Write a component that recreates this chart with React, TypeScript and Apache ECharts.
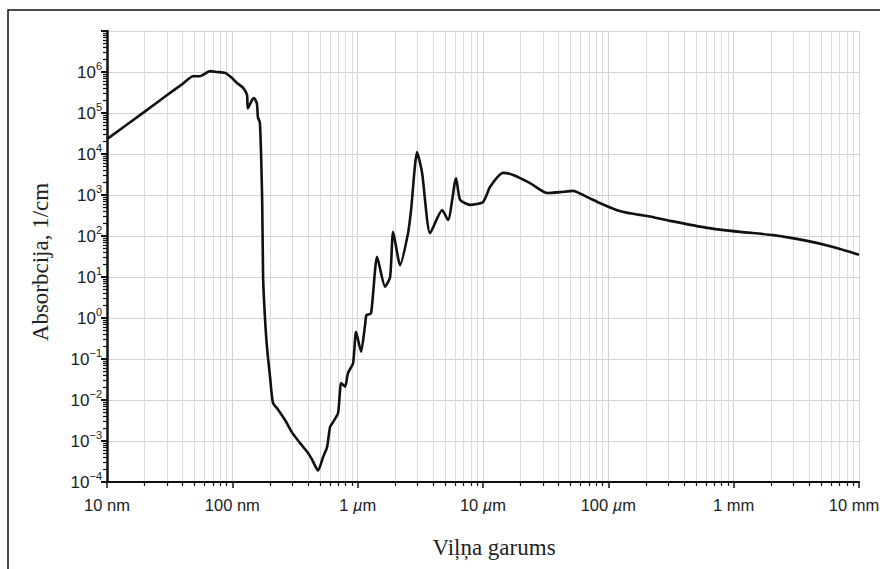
import React, { useEffect, useRef } from "react";
import * as echarts from "echarts";

// wavelength in nm
const WAVELENGTH_NM = [
  10, 20, 30, 40, 48.6, 55.2, 66.4, 75.5, 87.5, 99.5, 109, 122, 131, 133, 144, 149, 157, 160,
  166, 173, 176, 182, 189, 200, 211, 232, 264, 300, 347, 402, 433, 483, 530, 570,
  602, 636, 698, 738, 793, 838, 919, 971, 1065, 1146, 1175, 1279, 1429, 1655, 1815,
  1919, 2180, 2523, 2667, 2978, 3266, 3785, 4718, 5264, 6097, 6568, 7887, 10020,
  11400, 14460, 17380, 23770, 32500, 41240, 52360, 67700, 86080, 117500, 157700,
  228000, 311400, 614000, 1127000, 2066000, 3860000, 6220000, 10000000,
];
// absorption coefficient, 1/cm
const ABSORPTION = [
  2.3e4, 1.08e5, 2.7e5, 5.1e5, 7.9e5, 7.9e5, 1.05e6, 1.0e6, 9.5e5, 7.1e5, 5.4e5, 4.1e5, 2.75e5, 1.3e5, 2.1e5, 2.3e5, 1.7e5, 7.9e4,
  5.8e4, 760, 10, 1.05, 0.195, 0.036, 0.0085, 0.0058, 0.0032, 0.0016, 8.9e-4, 5.1e-4, 3.5e-4, 1.9e-4, 4.1e-4, 7.1e-4,
  2.2e-3, 2.9e-3, 4.8e-3, 0.026, 0.021, 0.046, 0.079, 0.46, 0.15, 0.68, 1.17, 1.3, 31, 5.8, 10,
  126, 19.5, 117, 427, 11200, 3470, 117, 427, 245, 2570, 760, 575, 676,
  1585, 3470, 3090, 1950, 1120, 1175, 1260, 890, 630, 427, 347,
  288, 234, 158, 126, 105, 76, 54, 35,
];

const X_TICK_LABELS = ["10 nm", "100 nm", "1 µm", "10 µm", "100 µm", "1 mm", "10 mm"];
const Y_AXIS_TITLE = "Absorbcija, 1/cm";
const X_AXIS_TITLE = "Viļņa garums";

export default function App() {
  const ref = useRef<HTMLDivElement>(null);
  useEffect(() => {
    if (!ref.current) return;
    const chart = echarts.init(ref.current, null, { renderer: "svg" });
    const data = WAVELENGTH_NM.map((x, i) => [x, ABSORPTION[i]]);
    chart.setOption({
      animation: false,
      backgroundColor: "#fff",
      grid: { left: 107, right: 21, top: 31, bottom: 87, containLabel: false, outerBoundsMode: "none" },
      xAxis: {
        type: "log",
        logBase: 10,
        min: 10,
        max: 1e7,
        interval: 1,
        splitNumber: 6,
        axisLine: { show: true, lineStyle: { color: "#111", width: 2 } },
        axisTick: { show: true, length: 6, lineStyle: { color: "#111", width: 1.5 } },
        minorTick: { show: true, splitNumber: 9, length: 4, lineStyle: { color: "#111", width: 1.2 } },
        splitLine: { show: true, lineStyle: { color: "#d2d2d2", width: 1 } },
        minorSplitLine: { show: true, lineStyle: { color: "#dcdcdc", width: 1 } },
        axisLabel: {
          margin: 14,
          fontFamily: "Liberation Sans",
          fontSize: 16.5,
          color: "#222",
          formatter: (v: number) => {
            const i = Math.round(Math.log10(v)) - 1;
            const s = X_TICK_LABELS[i] ?? "";
            if (i === X_TICK_LABELS.length - 1) return `{last|${s}}`;
            return s.replace("µ", "{mu|µ}");
          },
          rich: {
            mu: { fontFamily: "Liberation Sans", fontSize: 16.5, fontStyle: "italic", color: "#222" },
            last: { fontFamily: "Liberation Sans", fontSize: 16.5, color: "#222", padding: [0, 10, 0, 0] },
          },
        },
      },
      yAxis: {
        type: "log",
        logBase: 10,
        min: 1e-4,
        max: 1e7,
        interval: 1,
        splitNumber: 11,
        axisLine: { show: true, lineStyle: { color: "#111", width: 2.5 } },
        axisTick: { show: true, length: 6, lineStyle: { color: "#111", width: 2 } },
        minorTick: { show: true, splitNumber: 9, length: 4, lineStyle: { color: "#111", width: 1.2 } },
        splitLine: { show: true, lineStyle: { color: "#d2d2d2", width: 1 } },
        minorSplitLine: { show: false },
        axisLabel: {
          margin: 5,
          fontFamily: "Liberation Sans",
          color: "#222",
          formatter: (v: number) => {
            const e = Math.round(Math.log10(v));
            if (e >= 7) return "";
            const es = e < 0 ? "\u2212" + -e : String(e);
            return `{b|10}{e|${es}}`;
          },
          rich: {
            b: { fontFamily: "Liberation Sans", fontSize: 17, color: "#222" },
            e: { fontFamily: "Liberation Sans", fontSize: 11, color: "#222", padding: [0, 0, 12, 0] },
          },
        },
      },
      series: [
        {
          type: "line",
          data,
          showSymbol: false,
          smooth: 0.2,
          lineStyle: { color: "#111", width: 2.6 },
          itemStyle: { color: "#111" },
        },
      ],
      graphic: [
        {
          type: "rect",
          shape: { x: 8, y: 10, width: 900, height: 600 },
          style: { fill: "none", stroke: "#111", lineWidth: 1.5 },
          silent: true,
        },
        {
          type: "text",
          x: 40,
          y: 262,
          rotation: Math.PI / 2,
          style: {
            text: Y_AXIS_TITLE,
            fontFamily: "Liberation Serif",
            fontSize: 23,
            fill: "#222",
            align: "center",
            verticalAlign: "middle",
          },
        },
        {
          type: "text",
          x: 494,
          y: 547,
          style: {
            text: X_AXIS_TITLE,
            fontFamily: "Liberation Serif",
            fontSize: 23,
            fill: "#222",
            align: "center",
            verticalAlign: "middle",
          },
        },
      ],
    });
    return () => chart.dispose();
  }, []);
  return (
    <div
      ref={ref}
      style={{ position: "fixed", left: 0, top: 0, width: 880, height: 569 }}
    />
  );
}
